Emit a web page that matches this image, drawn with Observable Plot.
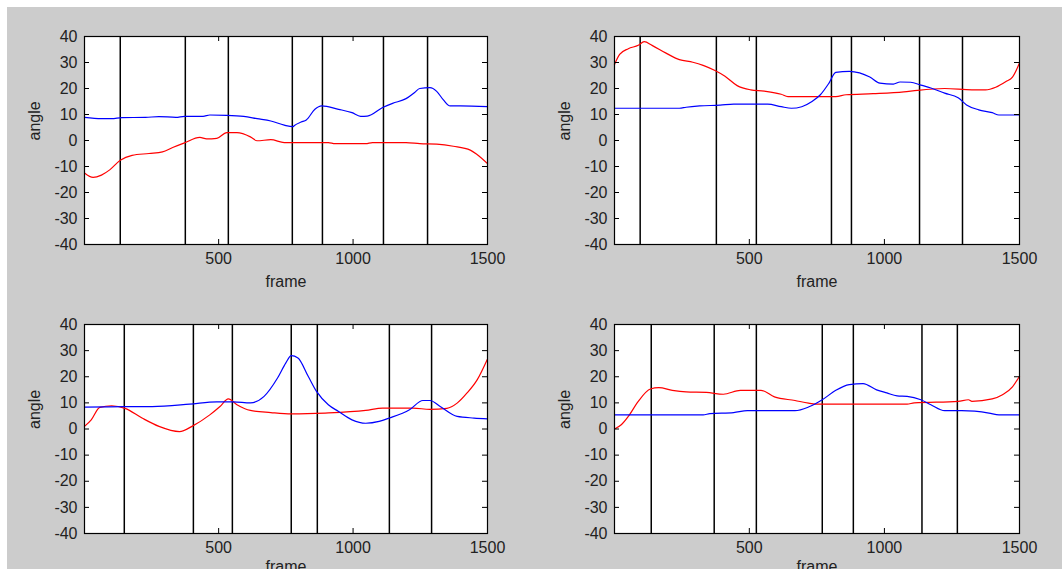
<!DOCTYPE html>
<html><head><meta charset="utf-8">
<script src="https://cdn.jsdelivr.net/npm/d3@7"></script>
<script src="https://cdn.jsdelivr.net/npm/@observablehq/plot@0.6"></script>
<style>
html,body{margin:0;padding:0;background:#fff;}
#fig{position:relative;width:1062px;height:569px;overflow:hidden;background:#fff;}
#bg{position:absolute;left:7px;top:7px;right:0;bottom:0;background:#cccccc;}
.panel{position:absolute;}
</style></head><body><div id="fig"><div id="bg"></div></div>
<script>
// ---- data ----
const xDomain = [1, 1500];
const yDomain = [-40, 40];
const xTicks = [500, 1000, 1500];
const yTicks = [-40, -30, -20, -10, 0, 10, 20, 30, 40];
const xLabel = "frame";
const yLabel = "angle";

// panel 1 (top left)
const p1Events = [134, 376, 536, 774, 886, 1113, 1277];
const p1Blue = [[1,8.9],[64,8.4],[102,8.4],[140,8.8],[228,8.9],[278,9.2],[341,8.9],[373,9.3],[442,9.3],[467,9.8],[530,9.7],[593,9.3],[643,8.4],[694,7.5],[744,5.9],[776,5.3],[782,5.8],[807,7.1],[826,7.9],[858,12.0],[883,13.3],[946,12.0],[996,10.7],[1028,9.3],[1053,9.4],[1110,12.7],[1147,14.3],[1197,16.1],[1229,18.5],[1248,20.0],[1286,20.3],[1311,18.9],[1336,15.6],[1361,13.3],[1399,13.3],[1500,13.0]];
const p1Red = [[1,-12.5],[33,-14.2],[64,-13.3],[96,-11.2],[134,-7.6],[178,-5.7],[241,-5.0],[291,-4.4],[329,-2.7],[373,-0.9],[430,1.2],[455,0.6],[493,0.8],[530,3.0],[568,3.0],[618,1.4],[643,-0.1],[694,0.3],[744,-0.8],[908,-0.8],[933,-1.2],[1047,-1.2],[1072,-0.8],[1197,-0.8],[1248,-1.2],[1311,-1.4],[1373,-2.2],[1436,-3.7],[1461,-5.4],[1500,-8.9]];

// panel 2 (top right)
const p2Events = [96, 378, 526, 804, 878, 1130, 1289];
const p2Blue = [[1,12.4],[241,12.4],[266,12.8],[316,13.3],[392,13.6],[442,14.0],[568,14.0],[618,13.0],[656,12.4],[694,13.0],[732,15.0],[763,17.6],[795,22.1],[820,26.2],[870,26.6],[908,26.0],[946,24.4],[983,22.1],[1033,21.7],[1058,22.5],[1097,22.4],[1135,21.3],[1172,20.2],[1223,18.2],[1273,16.4],[1304,13.7],[1349,11.8],[1399,10.7],[1424,9.8],[1500,9.8]];
const p2Red = [[1,29.2],[20,33.1],[52,35.3],[89,36.6],[111,38.0],[140,36.6],[190,33.7],[241,31.1],[291,30.1],[329,28.9],[373,26.9],[410,24.7],[455,21.1],[505,19.5],[555,19.0],[618,17.8],[643,16.9],[820,16.9],[858,17.6],[958,18.0],[1072,18.7],[1122,19.3],[1223,20.0],[1324,19.5],[1374,19.5],[1412,20.5],[1450,22.7],[1474,24.4],[1500,29.8]];

// panel 3 (bottom left)
const p3Events = [149, 406, 551, 770, 867, 1135, 1292];
const p3Blue = [[1,8.4],[152,8.6],[253,8.6],[392,9.5],[493,10.4],[555,10.4],[618,10.0],[669,12.5],[719,19.5],[750,25.3],[770,28.1],[795,27.2],[833,20.2],[864,14.4],[908,9.3],[946,6.7],[996,3.5],[1047,2.2],[1097,2.9],[1135,4.2],[1210,7.4],[1260,10.9],[1286,10.9],[1324,8.6],[1387,4.8],[1450,4.2],[1500,3.9]];
const p3Red = [[1,1.0],[26,3.5],[58,8.3],[102,8.9],[152,7.9],[215,4.2],[278,1.0],[354,-1.0],[404,1.2],[467,5.4],[505,8.6],[536,11.5],[568,9.3],[618,7.1],[694,6.3],[770,5.8],[896,6.1],[1047,7.1],[1110,8.0],[1223,8.0],[1286,7.5],[1349,7.9],[1387,9.9],[1424,13.8],[1462,18.9],[1500,26.8]];

// panel 4 (bottom right)
const p4Events = [137, 370, 526, 770, 885, 1139, 1270];
const p4Blue = [[1,5.4],[329,5.4],[354,5.9],[442,6.3],[493,7.0],[669,7.0],[719,8.4],[770,11.2],[820,14.8],[870,17.0],[921,17.4],[971,15.0],[1009,13.8],[1047,12.7],[1084,12.5],[1135,11.2],[1172,9.3],[1223,7.0],[1286,7.0],[1387,6.1],[1424,5.4],[1500,5.4]];
const p4Red = [[1,0.0],[26,1.6],[52,4.8],[89,10.6],[134,15.3],[165,15.8],[215,14.8],[266,14.2],[341,14.0],[404,13.3],[467,14.8],[543,14.8],[593,12.3],[669,10.9],[719,9.9],[757,9.5],[1084,9.5],[1110,10.0],[1273,10.6],[1311,11.2],[1324,10.6],[1399,11.5],[1437,13.1],[1474,16.1],[1500,20.2]];

// ---- drawing ----
const fig = document.getElementById("fig");

function panel(left, top, width, height, mL, mR, mT, mB, red, blue, events, labelDy) {
  const iw = width - mL - mR, ih = height - mT - mB;
  const chart = Plot.plot({
    width, height,
    marginLeft: mL, marginRight: mR, marginTop: mT, marginBottom: mB,
    x: {domain: xDomain, axis: null},
    y: {domain: yDomain, axis: null},
    style: {background: "transparent", fontFamily: "'Liberation Sans', Arial, sans-serif", fontSize: "16px", color: "#222", overflow: "visible"},
    marks: [
      Plot.frame({fill: "white"}),
      Plot.ruleX(events, {x: d => d, stroke: "black", strokeWidth: 1.5}),
      Plot.line(red, {x: d => d[0], y: d => d[1], stroke: "#ff0000", strokeWidth: 1.2, curve: "monotone-x"}),
      Plot.line(blue, {x: d => d[0], y: d => d[1], stroke: "#0000ff", strokeWidth: 1.2, curve: "monotone-x"}),
      // inward ticks
      Plot.ruleX(xTicks, {x: d => d, stroke: "black", insetTop: ih - 5}),
      Plot.ruleX(xTicks, {x: d => d, stroke: "black", insetBottom: ih - 5}),
      Plot.ruleY(yTicks, {y: d => d, stroke: "black", insetRight: iw - 5}),
      Plot.ruleY(yTicks, {y: d => d, stroke: "black", insetLeft: iw - 5}),
      Plot.axisX({ticks: xTicks, tickSize: 0, tickPadding: 8, tickFormat: d => String(d), fontSize: 16, label: null}),
      Plot.axisY({ticks: yTicks, tickSize: 0, tickPadding: 7, tickFormat: d => String(d), fontSize: 16, label: null}),
      Plot.text([yLabel], {text: d => d, frameAnchor: "left", dx: -50, rotate: -90, fontSize: 16}),
      Plot.text([xLabel], {text: d => d, frameAnchor: "bottom", dy: labelDy, fontSize: 16}),
      Plot.frame({stroke: "black", strokeWidth: 1.2})
    ]
  });
  const div = document.createElement("div");
  div.className = "panel";
  div.style.left = left + "px";
  div.style.top = top + "px";
  div.appendChild(chart);
  fig.appendChild(div);
}

panel(0, 0, 531, 300, 84, 44, 36, 56, p1Red, p1Blue, p1Events, 42);
panel(531, 0, 531, 300, 83, 43, 36, 56, p2Red, p2Blue, p2Events, 42);
panel(0, 300, 531, 269, 84, 44, 24, 36, p3Red, p3Blue, p3Events, 38);
panel(531, 300, 531, 269, 83, 43, 24, 36, p4Red, p4Blue, p4Events, 38);
</script>
</body></html>
